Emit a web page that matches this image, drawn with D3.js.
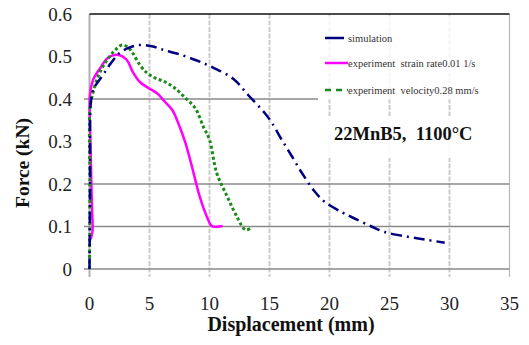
<!DOCTYPE html>
<html>
<head>
<meta charset="utf-8">
<script src="https://cdn.jsdelivr.net/npm/d3@7"></script>
<style>
  body { margin: 0; background: #fff; }
  svg text { font-family: "Liberation Serif", "DejaVu Serif", serif; white-space: pre; }
</style>
</head>
<body>
<svg width="529" height="345"></svg>
<script>
// x ticks (mm) and y ticks (kN)
var xTicks = [0, 5, 10, 15, 20, 25, 30, 35];
var yTicks = [0, 0.1, 0.2, 0.3, 0.4, 0.5, 0.6];
var yGrid = [0, 0.1, 0.2, 0.4];

// [displacement, force]
var simulation = [[0,0],[0.05,0.2],[0.08,0.38],[0.2,0.41],[0.35,0.425],[0.7,0.44],[1.2,0.46],[1.8,0.485],[2.5,0.508],[3.3,0.521],[4.2,0.527],[5.2,0.524],[6,0.517],[7.5,0.505],[9,0.49],[10.3,0.474],[12,0.447],[13.2,0.41],[14.6,0.367],[15.2,0.344],[16,0.305],[16.7,0.273],[17.7,0.226],[18.8,0.181],[19.6,0.158],[21,0.134],[22,0.12],[23.5,0.1],[24.6,0.087],[26.5,0.076],[28,0.069],[29.6,0.062]];
var strainRate = [[0.1,0.07],[0.25,0.09],[0.2,0.15],[0.08,0.3],[0.04,0.41],[0.3,0.445],[0.9,0.473],[1.5,0.496],[2.3,0.504],[3.1,0.492],[3.6,0.464],[4.2,0.44],[4.9,0.426],[5.6,0.414],[6.3,0.393],[6.9,0.374],[7.4,0.343],[8.0,0.296],[8.5,0.245],[9.2,0.169],[9.8,0.122],[10.2,0.101],[11.1,0.101]];
var velocity = [[0,0],[0.02,0.1],[0.03,0.2],[0.04,0.379],[0.2,0.405],[0.7,0.452],[1.3,0.485],[2.0,0.511],[2.7,0.527],[3.2,0.522],[3.6,0.508],[4.2,0.48],[4.8,0.461],[5.5,0.449],[6.3,0.44],[7.1,0.426],[8.0,0.402],[8.8,0.379],[9.5,0.334],[10.0,0.304],[10.6,0.226],[11.5,0.169],[12.3,0.122],[13.0,0.092],[13.4,0.096]];

var legendNames = ["simulation", "experiment  strain rate0.01 1/s", "experiment  velocity0.28 mm/s"];

var svg = d3.select("svg");

var x = d3.scaleLinear().domain([0, 35]).range([89.5, 509.5]);
var y = d3.scaleLinear().domain([0, 0.6]).range([269, 14]);

// vertical grid (dashed, light)
svg.append("g").selectAll("line")
    .data(xTicks.filter(function(d){ return d > 0; }))
    .enter().append("line")
    .attr("x1", function(d){ return x(d); })
    .attr("x2", function(d){ return x(d); })
    .attr("y1", y(0.6)).attr("y2", 277)
    .attr("stroke", function(d){ return d == 35 ? "#b8b8b8" : "#cccccc"; })
    .attr("stroke-width", function(d){ return d == 35 ? 1.2 : 2; })
    .attr("stroke-dasharray", function(d){ return d == 35 ? null : "5,1.5"; });

// y axis line
svg.append("line")
    .attr("x1", x(0)).attr("x2", x(0))
    .attr("y1", y(0.6)).attr("y2", 277)
    .attr("stroke", "#b0b0b0").attr("stroke-width", 2);

// horizontal grid
svg.append("g").selectAll("line")
    .data(yGrid)
    .enter().append("line")
    .attr("x1", 84)
    .attr("x2", function(d){ return d == 0.4 ? 318 : x(35); })
    .attr("y1", function(d){ return y(d); })
    .attr("y2", function(d){ return y(d); })
    .attr("stroke", "#8a8a8a").attr("stroke-width", 1.3);

// top border
svg.append("line")
    .attr("x1", x(0)).attr("x2", x(35))
    .attr("y1", y(0.6)).attr("y2", y(0.6))
    .attr("stroke", "#111").attr("stroke-width", 1.5);

// washed-out areas behind legend and label
svg.append("rect").attr("x", 319).attr("y", 15.5).attr("width", 189).attr("height", 84)
    .attr("fill", "#fff").attr("opacity", 0.8);
svg.append("rect").attr("x", 319).attr("y", 116).attr("width", 189).attr("height", 42)
    .attr("fill", "#fff").attr("opacity", 0.9);

// tick labels
svg.append("g").selectAll("text")
    .data(yTicks)
    .enter().append("text")
    .attr("x", 72)
    .attr("y", function(d){ return y(d) + 6.5; })
    .attr("text-anchor", "end")
    .attr("font-size", 19)
    .attr("fill", "#222")
    .text(function(d){ return d3.format("")(d); });

svg.append("g").selectAll("text")
    .data(xTicks)
    .enter().append("text")
    .attr("x", function(d){ return x(d); })
    .attr("y", 310)
    .attr("text-anchor", "middle")
    .attr("font-size", 19)
    .attr("fill", "#222")
    .text(function(d){ return d; });

// axis titles
svg.append("text")
    .attr("transform", "translate(29,163) rotate(-90)")
    .attr("text-anchor", "middle")
    .attr("font-size", 19.5)
    .attr("font-weight", "bold")
    .attr("fill", "#111")
    .text("Force (kN)");

svg.append("text")
    .attr("x", 291).attr("y", 331)
    .attr("text-anchor", "middle")
    .attr("font-size", 20)
    .attr("font-weight", "bold")
    .attr("fill", "#111")
    .text("Displacement (mm)");

// series
var smooth = d3.line()
    .x(function(d){ return x(d[0]); })
    .y(function(d){ return y(d[1]); })
    .curve(d3.curveCatmullRom.alpha(0.5));

svg.append("path").datum(strainRate)
    .attr("d", smooth)
    .attr("fill", "none").attr("stroke", "#ff00ff").attr("stroke-width", 2.5);

svg.append("path").datum(velocity)
    .attr("d", smooth)
    .attr("fill", "none").attr("stroke", "#1a8a1a").attr("stroke-width", 3)
    .attr("stroke-dasharray", "3,2.5");

svg.append("path").datum(simulation)
    .attr("d", smooth)
    .attr("fill", "none").attr("stroke", "#000080").attr("stroke-width", 2.5)
    .attr("stroke-dasharray", "11,5,2,5");

// legend
var lg = svg.append("g");
var legendY = [38, 63, 90];
var legendStyle = [
  { c: "#000080", dash: null, x1: 325, x2: 344 },
  { c: "#ff00ff", dash: null, x1: 325, x2: 348 },
  { c: "#1a8a1a", dash: "6,5", x1: 325, x2: 348 }
];
legendNames.forEach(function(name, i) {
  lg.append("line")
    .attr("x1", legendStyle[i].x1).attr("x2", legendStyle[i].x2)
    .attr("y1", legendY[i]).attr("y2", legendY[i])
    .attr("stroke", legendStyle[i].c).attr("stroke-width", 2.5)
    .attr("stroke-dasharray", legendStyle[i].dash);
  lg.append("text")
    .attr("x", 348).attr("y", legendY[i] + 4)
    .attr("font-size", 10.5)
    .attr("fill", "#333")
    .text(name);
});

svg.append("text")
    .attr("x", 334).attr("y", 140)
    .attr("font-size", 18.5)
    .attr("font-weight", "bold")
    .attr("fill", "#111")
    .text("22MnB5,  1100\u00B0C");
</script>
</body>
</html>
